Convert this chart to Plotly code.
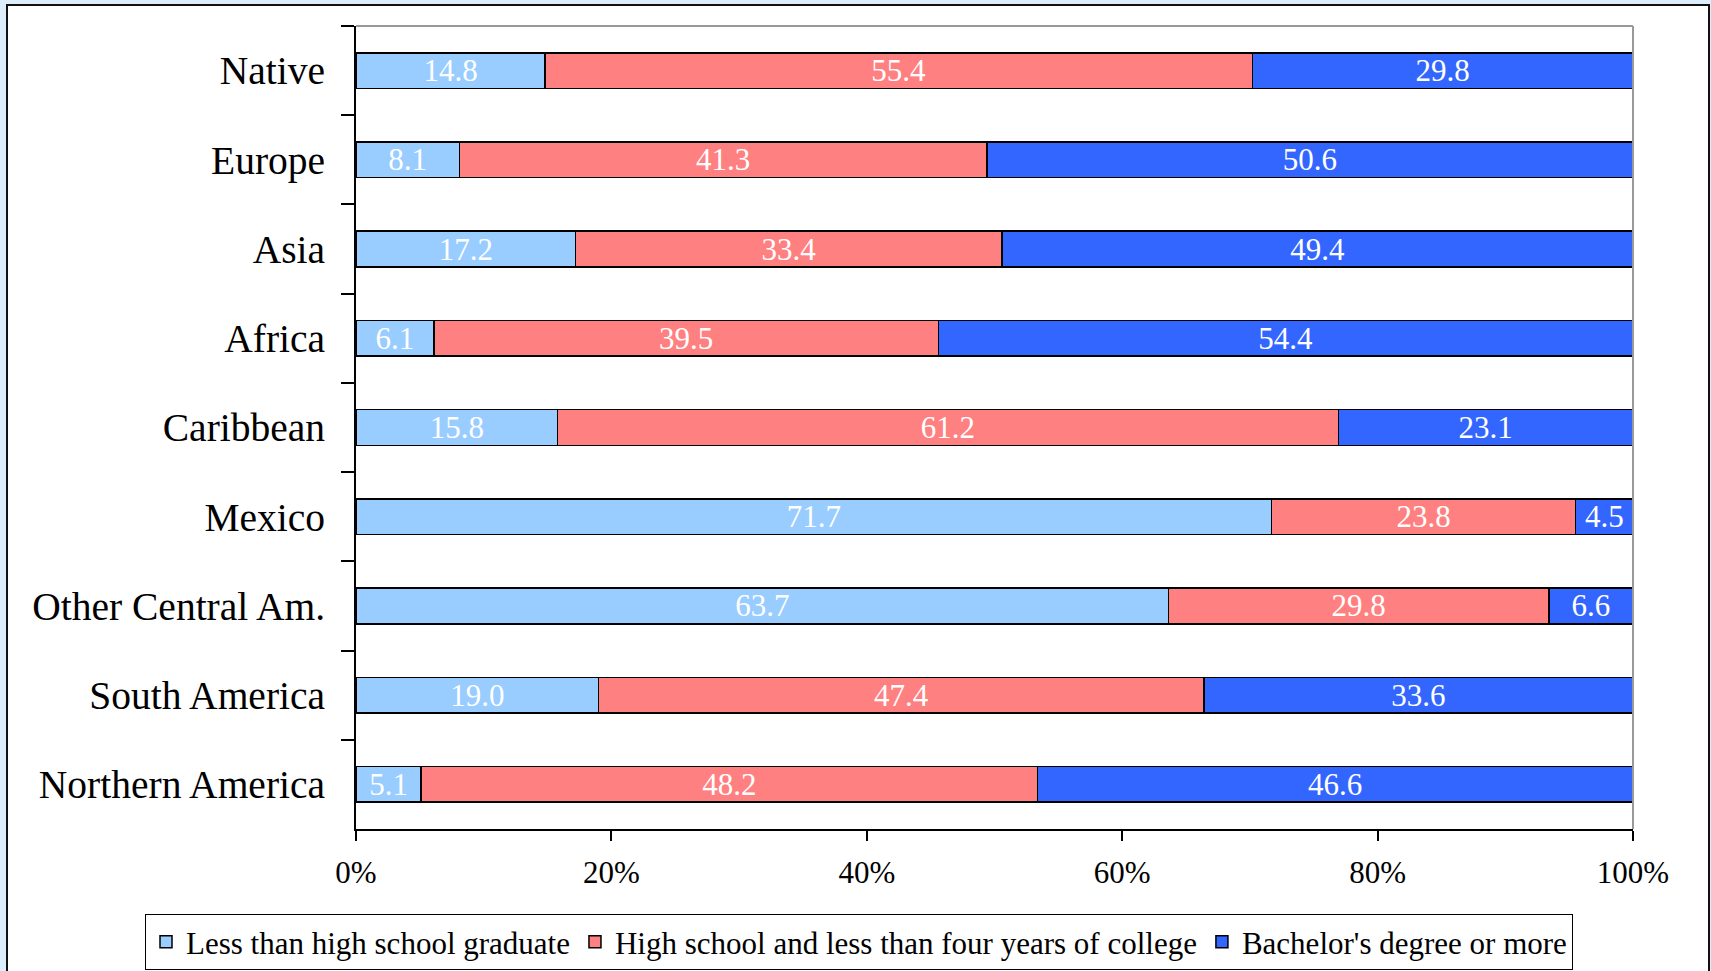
import plotly.graph_objects as go

categories = ["Native", "Europe", "Asia", "Africa", "Caribbean", "Mexico",
              "Other Central Am.", "South America", "Northern America"]
less_than_hs = [14.8, 8.1, 17.2, 6.1, 15.8, 71.7, 63.7, 19.0, 5.1]
hs_some_college = [55.4, 41.3, 33.4, 39.5, 61.2, 23.8, 29.8, 47.4, 48.2]
bachelors = [29.8, 50.6, 49.4, 54.4, 23.1, 4.5, 6.6, 33.6, 46.6]
series_names = ["Less than high school graduate",
                "High school and less than four years of college",
                "Bachelor's degree or more"]
series_colors = ["#99CCFF", "#FF8080", "#3366FF"]
x_ticks = [0, 20, 40, 60, 80, 100]
x_tick_labels = ["0%", "20%", "40%", "60%", "80%", "100%"]

FONT = "Liberation Serif"
W, H = 1711, 971
L, R, T, B = 356, 78, 26, 142

fig = go.Figure()
for name, vals, col in zip(series_names, [less_than_hs, hs_some_college, bachelors], series_colors):
    fig.add_trace(go.Bar(
        y=categories, x=vals, name=name, orientation="h",
        marker=dict(color=col, line=dict(color="black", width=1.5)),
        text=vals, texttemplate="%{text:.1f}", textposition="inside",
        insidetextanchor="middle", textangle=0,
        textfont=dict(color="white", size=31, family=FONT),
        width=0.4,
    ))

pw = W - L - R
ph = H - T - B
def px_x(px):
    return (px - L) / pw
def px_y(py):
    return (H - B - py) / ph

shapes = [
    dict(type="rect", xref="paper", yref="paper",
         x0=px_x(7), x1=px_x(1709), y0=px_y(1000), y1=px_y(5),
         fillcolor="white", line=dict(color="#111111", width=2), layer="below"),
    dict(type="line", xref="paper", yref="paper", x0=0, x1=1, y0=1, y1=1,
         line=dict(color="#999999", width=2)),
    dict(type="line", xref="paper", yref="paper", x0=1, x1=1, y0=0, y1=1,
         line=dict(color="#999999", width=2)),
]

fig.update_layout(
    width=W, height=H,
    margin=dict(l=L, r=R, t=T, b=B, pad=0, autoexpand=False),
    barmode="stack", barnorm="percent",
    paper_bgcolor="#DCEEFB", plot_bgcolor="white",
    font=dict(family=FONT, color="black"),
    shapes=shapes,
    uniformtext=dict(minsize=30, mode="show"),
    legend=dict(orientation="h", xref="paper", yref="paper",
                x=px_x(145), xanchor="left", y=px_y(914), yanchor="top",
                bordercolor="black", borderwidth=1, bgcolor="white",
                font=dict(size=31, family=FONT), traceorder="normal",
                itemwidth=30),
    showlegend=True,
)
fig.update_xaxes(range=[0, 100], tickvals=x_ticks, ticktext=x_tick_labels,
                 showgrid=False, zeroline=False, showline=True,
                 linecolor="black", linewidth=2, ticks="outside",
                 ticklen=10, tickcolor="black", tickwidth=1.5,
                 tickfont=dict(size=31, family=FONT), ticklabelstandoff=5)
fig.update_yaxes(autorange="reversed", showgrid=False, showline=True,
                 linecolor="black", linewidth=2, ticks="outside",
                 tickson="boundaries", ticklen=13, tickcolor="black",
                 tickwidth=1.5, tickfont=dict(size=39.5, family=FONT),
                 ticklabelstandoff=21)

fig.write_html("out.html", config={"displayModeBar": False},
               post_script="document.body.style.margin='0';"
                           "document.body.style.overflow='hidden';"
                           "document.body.style.background='#DCEEFB';")
